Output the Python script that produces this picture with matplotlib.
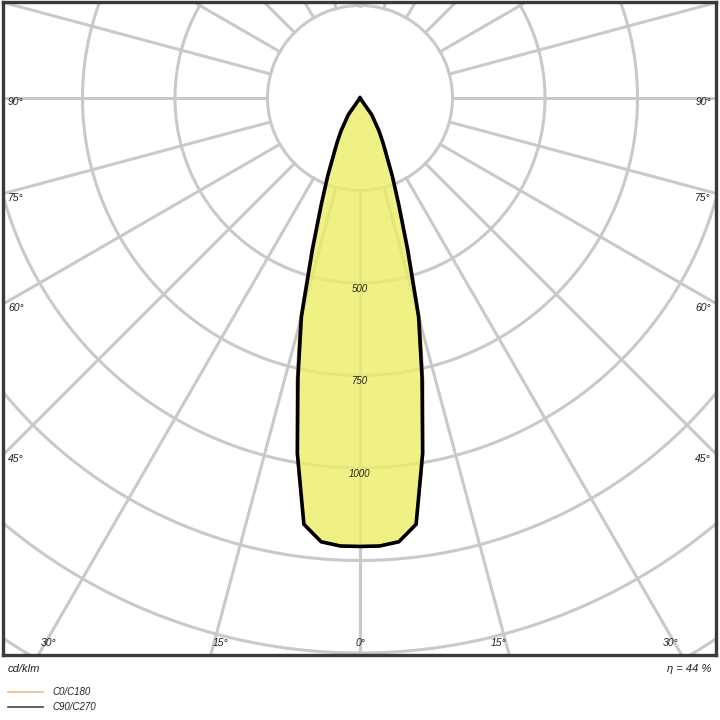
import numpy as np
import matplotlib.pyplot as plt
from matplotlib.lines import Line2D

plt.rcParams['font.family'] = ['Liberation Sans', 'DejaVu Sans']

# luminous intensity distribution [cd/klm] vs. gamma angle [deg]
gamma = [0, 2.5, 5, 7.5, 10, 12.5, 15, 17.5, 20, 22.5, 25, 27.5, 30,
         35, 40]
i_c0 = [1212, 1212, 1204, 1162, 978, 788, 626, 438, 310, 228, 168, 132, 102,
        55, 0]
i_c90 = [1212, 1212, 1204, 1162, 975, 775, 612, 425, 305, 228, 168, 132, 102,
         55, 0]

circle_vals = [250, 500, 750, 1000, 1250, 1500, 1750, 2000]
circle_labels = [500, 750, 1000]
side_angles = [90, 75, 60, 45]
bottom_angles = [30, 15, 0]
eta = 44

px = 92.5 / 250          # pixels per cd/klm
cx, cy = 360, 98         # pole in pixels

fig = plt.figure(figsize=(7.2, 7.2), dpi=100)
ax = fig.add_axes([3/720, 65/720, 713/720, 653/720])
x0, x1 = (3 - cx) / px, (716 - cx) / px
ytop, ybot = (2 - cy) / px, (655 - cy) / px
ax.set_xlim(x0, x1)
ax.set_ylim(ybot, ytop)
ax.set_xticks([]); ax.set_yticks([])
for s in ax.spines.values():
    s.set_color('#3a3a3a'); s.set_linewidth(2.4)

grid_c = '#c9c9c9'
t = np.linspace(0, 2*np.pi, 721)
for r in circle_vals:
    ax.plot(r*np.sin(t), r*np.cos(t), color=grid_c, lw=2.2, zorder=1)
for a in range(0, 360, 15):
    ar = np.radians(a)
    ax.plot([250*np.sin(ar), 4000*np.sin(ar)], [250*np.cos(ar), 4000*np.cos(ar)],
            color=grid_c, lw=2.2, zorder=1)

def lobe(vals):
    g = np.radians(np.array(gamma))
    v = np.array(vals, dtype=float)
    gg = np.concatenate([-g[::-1], g[1:]])
    vv = np.concatenate([v[::-1], v[1:]])
    return vv*np.sin(gg), vv*np.cos(gg)

xa, ya = lobe(i_c0)
xb, yb = lobe(i_c90)
ax.fill(xa, ya, color='#ecee66', alpha=0.8, lw=0, zorder=2)
ax.plot(xa, ya, color='#e8844a', lw=2.0, zorder=3, solid_joinstyle='round')
ax.plot(xb, yb, color='black', lw=2.6, zorder=4, solid_joinstyle='round')

tc = '#222222'
for v in circle_labels:
    ax.text(0, v + 16, str(v), ha='center', va='center', fontsize=7,
            style='italic', color=tc, zorder=5)

pad = 5 / px
for a in side_angles:
    y = (-x0) / np.tan(np.radians(a)) if a != 90 else 0
    ax.text(x0 + pad, y + 4/px, f'{a}°', ha='left', va='center', fontsize=7.5,
            style='italic', color=tc)
    ax.text(x1 - pad, y + 4/px, f'{a}°', ha='right', va='center', fontsize=7.5,
            style='italic', color=tc)
for a in bottom_angles:
    xh = ybot*np.tan(np.radians(a))
    yb_t = ybot - 12/px
    if a == 0:
        ax.text(0, yb_t, '0°', ha='center', va='center', fontsize=7.5,
                style='italic', color=tc)
    else:
        ax.text(-xh + 2/px, yb_t, f'{a}°', ha='left', va='center', fontsize=7.5,
                style='italic', color=tc)
        ax.text(xh - 3/px, yb_t, f'{a}°', ha='right', va='center', fontsize=7.5,
                style='italic', color=tc)

fig.text(8/720, 1 - 669/720, 'cd/klm', ha='left', va='center', fontsize=8,
         style='italic', color=tc)
fig.text(711/720, 1 - 669/720, f'η = {eta} %', ha='right', va='center', fontsize=8,
         style='italic', color=tc)

for yy, col, lab in [(692, '#f2b98c', 'C0/C180'), (707, '#444444', 'C90/C270')]:
    fig.add_artist(Line2D([8/720, 43/720], [1 - yy/720]*2, color=col, lw=1.2))
    fig.text(52/720, 1 - yy/720, lab, ha='left', va='center', fontsize=7,
             style='italic', color=tc)

fig.savefig('out.png', dpi=100, facecolor='white')
